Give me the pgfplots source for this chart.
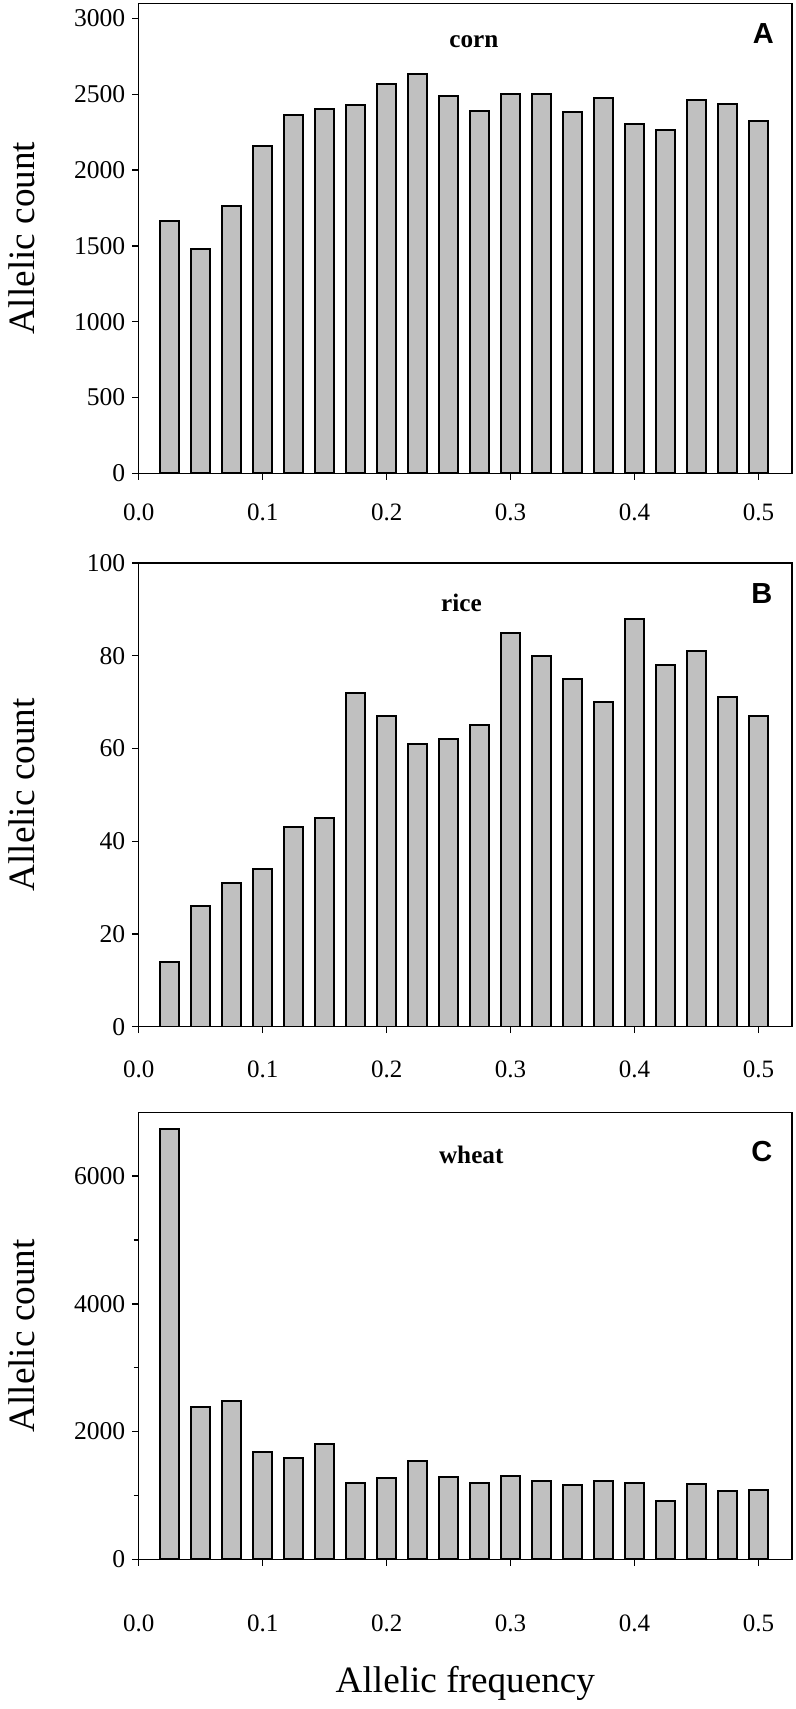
\documentclass[border=0pt]{standalone}
\usepackage{pgfplots}
\pgfplotsset{compat=1.18}
\usepackage{fontspec}
\setmainfont{Liberation Serif}
\newfontfamily\arialf{Liberation Sans}
\definecolor{barfill}{RGB}{192,192,192}

\pgfplotstableread{
x y
0.025 1664
0.050 1479
0.075 1765
0.100 2156
0.125 2365
0.150 2404
0.175 2426
0.200 2567
0.225 2631
0.250 2490
0.275 2389
0.300 2499
0.325 2505
0.350 2385
0.375 2473
0.400 2301
0.425 2266
0.450 2464
0.475 2433
0.500 2321
}\corn
\pgfplotstableread{
x y
0.025 14
0.050 26
0.075 31
0.100 34
0.125 43
0.150 45
0.175 72
0.200 67
0.225 61
0.250 62
0.275 65
0.300 85
0.325 80
0.350 75
0.375 70
0.400 88
0.425 78
0.450 81
0.475 71
0.500 67
}\rice
\pgfplotstableread{
x y
0.025 6741
0.050 2392
0.075 2480
0.100 1687
0.125 1587
0.150 1802
0.175 1191
0.200 1269
0.225 1546
0.250 1295
0.275 1196
0.300 1300
0.325 1222
0.350 1159
0.375 1222
0.400 1191
0.425 909
0.450 1180
0.475 1076
0.500 1086
}\wheat

\pgfplotsset{
  panel/.style={
    scale only axis, width=326.65pt,
    xmin=0, xmax=0.527, ymin=0,
    ybar, bar width=0.015,
    axis line style={line width=0.7pt},
    every tick/.style={line width=0.7pt, black},
    tick align=outside, major tick length=3.2pt, minor tick length=2.5pt,
    xtick pos=left, ytick pos=left,
    xtick={0,0.1,0.2,0.3,0.4,0.5},
    xticklabels={0.0,0.1,0.2,0.3,0.4,0.5},
    xticklabel style={font=\fontsize{12.5}{14}\selectfont, anchor=base},
    yticklabel style={font=\fontsize{12.8}{14}\selectfont, anchor=east},
    /pgf/number format/assume math mode=true,
    /pgf/number format/1000 sep={},
    ylabel={Allelic count},
    ylabel style={font=\fontsize{18.6}{20}\selectfont, at={(axis description cs:-0.1797,0.5)}, anchor=center},
  },
  bars/.style={fill=barfill, draw=black, line width=1pt},
}

\begin{document}
\begin{tikzpicture}[x=1pt,y=1pt]
\useasboundingbox (0,0) rectangle (398,-854.5);

% Panel A
\begin{axis}[panel, at={(69.35pt,-236.65pt)}, anchor=south west,
  height=235pt, ymax=3100, ytick={0,500,1000,1500,2000,2500,3000},
  xticklabel style={yshift=-20.3pt}]
\addplot[bars] table[x=x,y=y] {\corn};
\node[font=\fontsize{12.6}{14}\selectfont\bfseries] at (rel axis cs:0.513,0.918) {corn};
\node[font=\fontsize{14.5}{16}\selectfont\arialf\bfseries] at (rel axis cs:0.956,0.936) {A};
\end{axis}

% Panel B
\begin{axis}[panel, at={(69.35pt,-513.35pt)}, anchor=south west,
  height=231.85pt, ymax=100, ytick={0,20,40,60,80,100},
  xticklabel style={yshift=-22pt}]
\addplot[bars] table[x=x,y=y] {\rice};
\node[font=\fontsize{12.6}{14}\selectfont\bfseries] at (rel axis cs:0.494,0.915) {rice};
\node[font=\fontsize{14.5}{16}\selectfont\arialf\bfseries] at (rel axis cs:0.954,0.935) {B};
\end{axis}

% Panel C
\begin{axis}[panel, at={(69.35pt,-779.65pt)}, anchor=south west,
  height=223.5pt, ymax=7000, ytick={0,2000,4000,6000},
  minor ytick={1000,3000,5000},
  xticklabel style={yshift=-32.8pt},
  xlabel={Allelic frequency},
  xlabel style={font=\fontsize{18.6}{20}\selectfont, at={(axis description cs:0.5,-0.297)}, anchor=base}]
\addplot[bars] table[x=x,y=y] {\wheat};
\node[font=\fontsize{12.6}{14}\selectfont\bfseries] at (rel axis cs:0.509,0.904) {wheat};
\node[font=\fontsize{14.5}{16}\selectfont\arialf\bfseries] at (rel axis cs:0.954,0.912) {C};
\end{axis}
\end{tikzpicture}
\end{document}
